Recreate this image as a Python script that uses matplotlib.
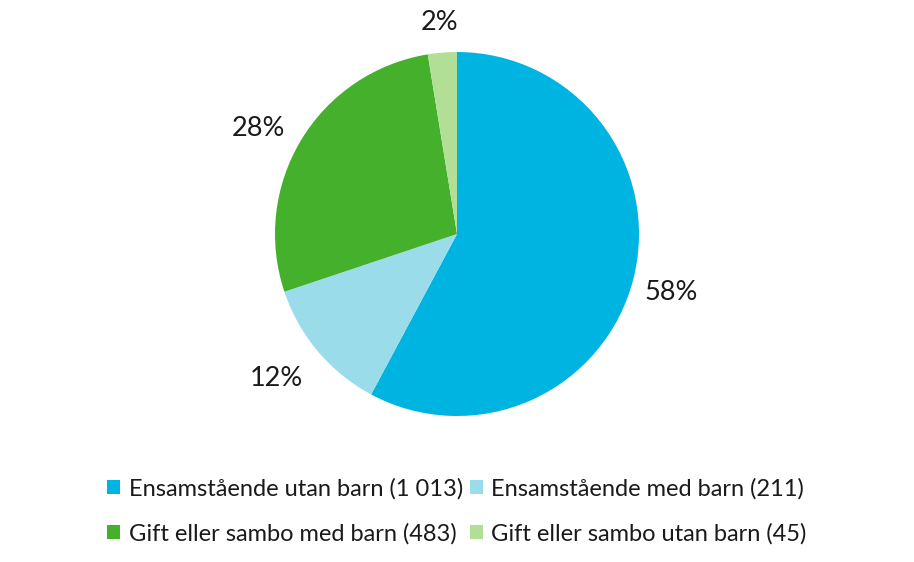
import matplotlib

matplotlib.use("Agg")
import matplotlib.pyplot as plt
import numpy as np

categories = [
    "Ensamstående utan barn",
    "Ensamstående med barn",
    "Gift eller sambo med barn",
    "Gift eller sambo utan barn",
]
counts = [1013, 211, 483, 45]
count_labels = ["1 013", "211", "483", "45"]
pct_labels = ["58%", "12%", "28%", "2%"]
colors = ["#00b4e1", "#9adce9", "#44b02c", "#b3de95"]

plt.rcParams["font.family"] = ["Lato", "DejaVu Sans"]

fig = plt.figure(figsize=(9.14, 5.62), dpi=100)
W, H = 914, 562
cx, cy, r = 457, 234, 182
lim = 1.3
side = 2 * r * lim
ax = fig.add_axes([(cx - side / 2) / W, (H - cy - side / 2) / H, side / W, side / H])

wedges, _ = ax.pie(counts, colors=colors, startangle=90, counterclock=False,
                   radius=1.0, wedgeprops=dict(linewidth=0))
ax.set_xlim(-lim, lim)
ax.set_ylim(-lim, lim)
ax.set_aspect("equal")
ax.axis("off")

# radial distance and a small nudge (pixels) for each percentage label
label_dist = [1.22, 1.27, 1.25, 1.18]
nudges = [(-1, -5), (-4, 5), (-4, -12), (0, -3)]
for w, txt, d, nud in zip(wedges, pct_labels, label_dist, nudges):
    mid = np.deg2rad((w.theta1 + w.theta2) / 2)
    ax.annotate(txt, (d * np.cos(mid), d * np.sin(mid)), xytext=nud,
                textcoords="offset pixels", ha="center", va="center",
                fontsize=19.5, color="#1a1a1a")

order = [0, 2, 1, 3]
handles = [wedges[i] for i in order]
labels = [f"{categories[i]} ({count_labels[i]})" for i in order]
fig.legend(handles, labels, ncol=2, loc="center", bbox_to_anchor=(0.5, 1 - 511 / H),
           frameon=False, fontsize=17, handlelength=0.55, handleheight=0.55,
           handletextpad=0.35, columnspacing=0.3, labelspacing=1.0,
           labelcolor="#1a1a1a")

fig.savefig("out.png", dpi=100)
